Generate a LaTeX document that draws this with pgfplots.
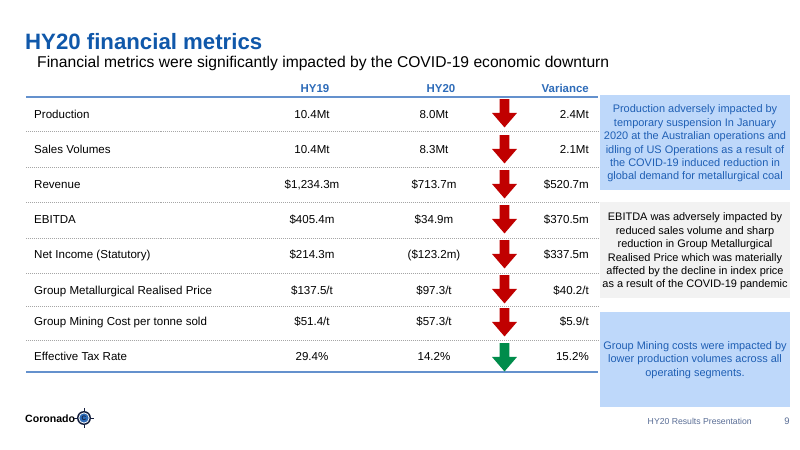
\documentclass[border=0pt]{standalone}
\usepackage{pgfplots}
\pgfplotsset{compat=1.18}
\usepackage{fontspec}
\setmainfont{Liberation Sans}
\definecolor{titleblue}{RGB}{16,88,170}
\definecolor{hdrblue}{RGB}{46,108,185}
\definecolor{ruleblue}{RGB}{100,145,205}
\definecolor{boxblue}{RGB}{190,216,250}
\definecolor{boxtext}{RGB}{31,95,180}
\definecolor{boxgray}{RGB}{242,242,242}
\definecolor{arrred}{RGB}{192,0,0}
\definecolor{arrgreen}{RGB}{0,140,75}
\definecolor{footgray}{RGB}{90,110,150}
\definecolor{navy}{RGB}{20,30,60}
\pgfdeclareplotmark{darrow}{%
 \pgfpathmoveto{\pgfpoint{-4.8pt}{14pt}}%
 \pgfpathlineto{\pgfpoint{4.8pt}{14pt}}%
 \pgfpathlineto{\pgfpoint{4.8pt}{0pt}}%
 \pgfpathlineto{\pgfpoint{12.5pt}{0pt}}%
 \pgfpathlineto{\pgfpoint{0pt}{-14.5pt}}%
 \pgfpathlineto{\pgfpoint{-12.5pt}{0pt}}%
 \pgfpathlineto{\pgfpoint{-4.8pt}{0pt}}%
 \pgfpathclose
 \pgfusepathqfill}
\newcommand{\tf}{\fontsize{11.6}{13}\selectfont}
\newcommand{\boxf}{\fontsize{11}{13.4}\selectfont}
\tikzset{sep/.style={gray!70, line width=0.6pt, dash pattern=on 0.8pt off 1.2pt},
  L/.style={anchor=base west, inner sep=0pt, font=\tf},
  C/.style={anchor=base, inner sep=0pt, font=\tf},
  R/.style={anchor=base east, inner sep=0pt, font=\tf}}
\begin{document}
\begin{tikzpicture}
\begin{axis}[
  scale only axis, width=800bp, height=450bp,
  xmin=0, xmax=800, ymin=0, ymax=450, y dir=reverse,
  hide axis, clip=false,
  axis background/.style={fill=white},
]
% right boxes
\fill[boxblue] (axis cs:600,95) rectangle (axis cs:790,190);
\fill[boxgray] (axis cs:600,202) rectangle (axis cs:790,298);
\fill[boxblue] (axis cs:600,312) rectangle (axis cs:790,407);
% title
\node[anchor=base west, inner sep=0pt, text=titleblue, font=\fontsize{22.3}{26}\selectfont\bfseries] at (axis cs:25,50) {HY20 financial metrics};
\node[anchor=base west, inner sep=0pt, font=\fontsize{15.7}{18}\selectfont] at (axis cs:37,67.5) {Financial metrics were significantly impacted by the COVID-19 economic downturn};
% headers
\node[text=hdrblue, font=\fontsize{11.5}{14}\selectfont\bfseries, inner sep=0pt, anchor=base] at (axis cs:315,92.5) {HY19};
\node[text=hdrblue, font=\fontsize{11.5}{14}\selectfont\bfseries, inner sep=0pt, anchor=base] at (axis cs:441,92.5) {HY20};
\node[text=hdrblue, font=\fontsize{11.5}{14}\selectfont\bfseries, inner sep=0pt, anchor=base east] at (axis cs:589,92.5) {Variance};
% rules
\draw[ruleblue, line width=1.6pt] (axis cs:26,97) -- (axis cs:598,97);
\draw[ruleblue, line width=1.6pt] (axis cs:26,372) -- (axis cs:598,372);
\draw[sep] (axis cs:26,131.5) -- (axis cs:598,131.5);
\draw[sep] (axis cs:26,167) -- (axis cs:598,167);
\draw[sep] (axis cs:26,202) -- (axis cs:598,202);
\draw[sep] (axis cs:26,238) -- (axis cs:598,238);
\draw[sep] (axis cs:26,273) -- (axis cs:598,273);
\draw[sep] (axis cs:26,306) -- (axis cs:598,306);
\draw[sep] (axis cs:26,340) -- (axis cs:598,340);
% row labels (baseline = row centre + 4)
\node[L] at (axis cs:34,119) {Production};
\node[L] at (axis cs:34,154) {Sales Volumes};
\node[L] at (axis cs:34,189) {Revenue};
\node[L] at (axis cs:34,224) {EBITDA};
\node[L] at (axis cs:34,259) {Net Income (Statutory)};
\node[L] at (axis cs:34,295) {Group Metallurgical Realised Price};
\node[L] at (axis cs:34,326) {Group Mining Cost per tonne sold};
\node[L] at (axis cs:34,361) {Effective Tax Rate};
\node[C] at (axis cs:312,119) {10.4Mt};
\node[C] at (axis cs:312,154) {10.4Mt};
\node[C] at (axis cs:312,189) {\$1,234.3m};
\node[C] at (axis cs:312,224) {\$405.4m};
\node[C] at (axis cs:312,259) {\$214.3m};
\node[C] at (axis cs:312,295) {\$137.5/t};
\node[C] at (axis cs:312,326) {\$51.4/t};
\node[C] at (axis cs:312,361) {29.4\%};
\node[C] at (axis cs:434,119) {8.0Mt};
\node[C] at (axis cs:434,154) {8.3Mt};
\node[C] at (axis cs:434,189) {\$713.7m};
\node[C] at (axis cs:434,224) {\$34.9m};
\node[C] at (axis cs:434,259) {(\$123.2m)};
\node[C] at (axis cs:434,295) {\$97.3/t};
\node[C] at (axis cs:434,326) {\$57.3/t};
\node[C] at (axis cs:434,361) {14.2\%};
\node[R] at (axis cs:589,119) {2.4Mt};
\node[R] at (axis cs:589,154) {2.1Mt};
\node[R] at (axis cs:589,189) {\$520.7m};
\node[R] at (axis cs:589,224) {\$370.5m};
\node[R] at (axis cs:589,259) {\$337.5m};
\node[R] at (axis cs:589,295) {\$40.2/t};
\node[R] at (axis cs:589,326) {\$5.9/t};
\node[R] at (axis cs:589,361) {15.2\%};
% arrows
\addplot[only marks, mark=darrow, color=arrred] coordinates {(504.5,113) (504.5,149) (504.5,184) (504.5,219) (504.5,254) (504.5,289) (504.5,322)};
\addplot[only marks, mark=darrow, color=arrgreen] coordinates {(504.5,357)};
% box texts
\node[align=center, text=boxtext, font=\boxf, inner sep=0pt] at (axis cs:695,143.5) {Production adversely impacted by\\temporary suspension In January\\2020 at the Australian operations and\\idling of US Operations as a result of\\the COVID-19 induced reduction in\\global demand for metallurgical coal};
\node[align=center, text=black, font=\boxf, inner sep=0pt] at (axis cs:695,251.5) {EBITDA was adversely impacted by\\reduced sales volume and sharp\\reduction in Group Metallurgical\\Realised Price which was materially\\affected by the decline in index price\\as a result of the COVID-19 pandemic};
\node[align=center, text=boxtext, font=\boxf, inner sep=0pt] at (axis cs:695,360) {Group Mining costs were impacted by\\lower production volumes across all\\operating segments.};
% footer
\node[anchor=base east, text=footgray, font=\fontsize{8.7}{10}\selectfont, inner sep=0pt] at (axis cs:752,424.5) {HY20 Results Presentation};
\node[anchor=base, text=footgray, font=\fontsize{9.5}{10}\selectfont, inner sep=0pt] at (axis cs:787,424.5) {9};
\node[anchor=base west, font=\fontsize{10.6}{13}\selectfont\bfseries, inner sep=0pt] at (axis cs:25,422) {Coronado};
\draw[navy, line width=0.8pt] (axis cs:84,408) -- (axis cs:84,428);
\draw[navy, line width=0.8pt] (axis cs:74,418) -- (axis cs:94,418);
\fill[navy] (axis cs:84,418) circle[radius=7bp];
\fill[white] (axis cs:84,418) circle[radius=5.6bp];
\fill[hdrblue] (axis cs:84,418) circle[radius=4.6bp];
\node[text=navy, font=\fontsize{6.5}{7}\selectfont\bfseries, inner sep=0pt] at (axis cs:84,418) {C};
\end{axis}
\end{tikzpicture}
\end{document}
